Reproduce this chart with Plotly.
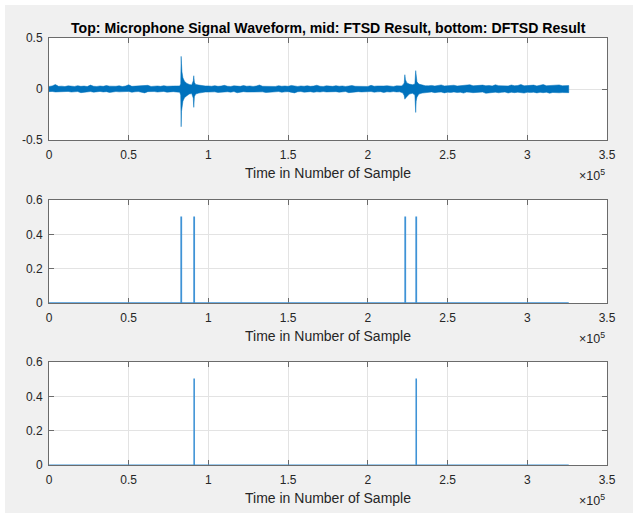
import plotly.graph_objects as go

# ---------------- data (x in units of 1e5 samples) ----------------
# Top: microphone waveform, drawn as its min/max envelope
seg_a_x = [0.00, 0.02, 0.04, 0.06, 0.08, 0.10, 0.12, 0.14, 0.16, 0.18,
           0.20, 0.22, 0.24, 0.26, 0.28, 0.30, 0.32, 0.34, 0.36, 0.38,
           0.40, 0.42, 0.44, 0.46, 0.48, 0.50, 0.52, 0.54, 0.56, 0.58,
           0.60, 0.62, 0.64, 0.66, 0.68, 0.70, 0.72, 0.74, 0.76, 0.78,
           0.80]
seg_a_hi = [0.025, 0.030, 0.044, 0.026, 0.028, 0.024, 0.031, 0.027, 0.025, 0.033,
            0.026, 0.029, 0.024, 0.038, 0.027, 0.025, 0.030, 0.026, 0.034, 0.028,
            0.025, 0.027, 0.032, 0.024, 0.029, 0.041, 0.026, 0.028, 0.025, 0.031,
            0.027, 0.036, 0.025, 0.028, 0.030, 0.026, 0.033, 0.027, 0.025, 0.029,
            0.030]
seg_a_lo = [-0.026, -0.024, -0.029, -0.033, -0.025, -0.027, -0.024, -0.030, -0.028, -0.025,
            -0.036, -0.026, -0.028, -0.025, -0.031, -0.027, -0.024, -0.029, -0.026, -0.034,
            -0.027, -0.025, -0.028, -0.030, -0.026, -0.024, -0.032, -0.027, -0.025, -0.029,
            -0.038, -0.026, -0.028, -0.025, -0.030, -0.027, -0.024, -0.031, -0.028, -0.026,
            -0.030]

spike1_x = [0.81, 0.82, 0.826, 0.829, 0.831, 0.834, 0.84, 0.85, 0.865, 0.88,
            0.895, 0.905, 0.908, 0.912, 0.92, 0.94, 0.96, 0.98]
spike1_hi = [0.028, 0.030, 0.050, 0.320, 0.250, 0.170, 0.110, 0.075, 0.055, 0.045,
             0.040, 0.080, 0.130, 0.065, 0.045, 0.038, 0.032, 0.030]
spike1_lo = [-0.028, -0.032, -0.060, -0.370, -0.220, -0.180, -0.120, -0.085, -0.065, -0.050,
             -0.045, -0.090, -0.180, -0.075, -0.050, -0.040, -0.034, -0.030]

seg_b_x = [1.00, 1.02, 1.04, 1.06, 1.08, 1.10, 1.12, 1.14, 1.16, 1.18,
           1.20, 1.22, 1.24, 1.26, 1.28, 1.30, 1.32, 1.34, 1.36, 1.38,
           1.40, 1.42, 1.44, 1.46, 1.48, 1.50, 1.52, 1.54, 1.56, 1.58,
           1.60, 1.62, 1.64, 1.66, 1.68, 1.70, 1.72, 1.74, 1.76, 1.78,
           1.80, 1.82, 1.84, 1.86, 1.88, 1.90, 1.92, 1.94, 1.96, 1.98,
           2.00, 2.02, 2.04, 2.06, 2.08, 2.10, 2.12, 2.14, 2.16, 2.18,
           2.20]
seg_b_hi = [0.030, 0.027, 0.033, 0.026, 0.029, 0.036, 0.027, 0.025, 0.031, 0.028,
            0.026, 0.034, 0.027, 0.030, 0.025, 0.029, 0.039, 0.027, 0.026, 0.031,
            0.028, 0.025, 0.033, 0.027, 0.030, 0.026, 0.035, 0.028, 0.025, 0.030,
            0.027, 0.032, 0.026, 0.029, 0.037, 0.027, 0.025, 0.031, 0.028, 0.026,
            0.033, 0.027, 0.030, 0.025, 0.029, 0.034, 0.027, 0.026, 0.031, 0.028,
            0.025, 0.036, 0.027, 0.030, 0.026, 0.029, 0.032, 0.027, 0.025, 0.031,
            0.028]
seg_b_lo = [-0.030, -0.026, -0.028, -0.034, -0.025, -0.029, -0.027, -0.031, -0.025, -0.037,
            -0.028, -0.026, -0.030, -0.027, -0.033, -0.025, -0.029, -0.028, -0.035, -0.026,
            -0.030, -0.027, -0.025, -0.032, -0.028, -0.026, -0.029, -0.038, -0.027, -0.025,
            -0.031, -0.028, -0.026, -0.033, -0.027, -0.030, -0.025, -0.029, -0.034, -0.027,
            -0.026, -0.031, -0.028, -0.025, -0.036, -0.027, -0.030, -0.026, -0.029, -0.032,
            -0.027, -0.025, -0.031, -0.028, -0.026, -0.035, -0.027, -0.030, -0.025, -0.029,
            -0.028]

spike2_x = [2.21, 2.22, 2.228, 2.232, 2.236, 2.245, 2.26, 2.28, 2.295, 2.300,
            2.303, 2.308, 2.32, 2.34, 2.36]
spike2_hi = [0.030, 0.040, 0.060, 0.140, 0.090, 0.060, 0.048, 0.042, 0.050, 0.180,
             0.120, 0.070, 0.048, 0.038, 0.032]
spike2_lo = [-0.030, -0.040, -0.065, -0.100, -0.090, -0.070, -0.050, -0.042, -0.060, -0.230,
             -0.120, -0.080, -0.050, -0.040, -0.033]

seg_d_x = [2.38, 2.40, 2.42, 2.44, 2.46, 2.48, 2.50, 2.52, 2.54, 2.56,
           2.58, 2.60, 2.62, 2.64, 2.66, 2.68, 2.70, 2.72, 2.74, 2.76,
           2.78, 2.80, 2.82, 2.84, 2.86, 2.88, 2.90, 2.92, 2.94, 2.96,
           2.98, 3.00, 3.02, 3.04, 3.06, 3.08, 3.10, 3.12, 3.14, 3.16,
           3.18, 3.20, 3.22, 3.24, 3.26]
seg_d_hi = [0.031, 0.035, 0.029, 0.033, 0.040, 0.030, 0.034, 0.031, 0.037, 0.029,
            0.033, 0.030, 0.036, 0.042, 0.031, 0.034, 0.030, 0.038, 0.032, 0.035,
            0.030, 0.041, 0.033, 0.031, 0.036, 0.030, 0.039, 0.032, 0.034, 0.044,
            0.031, 0.035, 0.033, 0.038, 0.030, 0.036, 0.043, 0.032, 0.034, 0.037,
            0.033, 0.040, 0.031, 0.036, 0.034]
seg_d_lo = [-0.032, -0.029, -0.036, -0.031, -0.030, -0.038, -0.031, -0.034, -0.029, -0.035,
            -0.031, -0.040, -0.030, -0.033, -0.036, -0.031, -0.034, -0.030, -0.042, -0.032,
            -0.035, -0.031, -0.037, -0.033, -0.030, -0.039, -0.032, -0.036, -0.031, -0.034,
            -0.040, -0.032, -0.035, -0.031, -0.038, -0.033, -0.036, -0.032, -0.041, -0.034,
            -0.033, -0.037, -0.035, -0.039, -0.036]

signal_end = 326000

# Mid: FTSD result pulses; bottom: DFTSD result pulses (sample index)
ftsd_pulses = [82800, 90900, 223300, 230200]
dftsd_pulses = [90900, 230200]
pulse_height = 0.5
pulse_width = 300

# ticks
x_tickvals = [0, 50000, 100000, 150000, 200000, 250000, 300000, 350000]
x_ticktext = ["0", "0.5", "1", "1.5", "2", "2.5", "3", "3.5"]
y1_ticks = [-0.5, 0, 0.5]
y1_text = ["-0.5", "0", "0.5"]
y23_ticks = [0, 0.2, 0.4, 0.6]
y23_text = ["0", "0.2", "0.4", "0.6"]

title_text = "Top: Microphone Signal Waveform, mid: FTSD Result, bottom: DFTSD Result"
xlabel = "Time in Number of Sample"

# ---------------- build ----------------
BLUE = "#0072BD"
PULSE = "#3f93d6"
FONT = "Liberation Sans, Arial, Helvetica, sans-serif"
TXT = "#262626"
AX = "#6b6b6b"
GRID = "#e3e3e3"

env_x = seg_a_x + spike1_x + seg_b_x + spike2_x + seg_d_x
env_hi = seg_a_hi + spike1_hi + seg_b_hi + spike2_hi + seg_d_hi
env_lo = seg_a_lo + spike1_lo + seg_b_lo + spike2_lo + seg_d_lo


def pulse_series(pulses):
    xs, ys = [0], [0]
    for p in pulses:
        xs += [p, p, p + pulse_width, p + pulse_width]
        ys += [0, pulse_height, pulse_height, 0]
    xs.append(signal_end)
    ys.append(0)
    return xs, ys


fig = go.Figure()

ex = [v * 1e5 for v in env_x]
fig.add_trace(go.Scatter(
    x=ex + ex[::-1], y=env_hi + env_lo[::-1], fill="toself",
    fillcolor=BLUE, line=dict(color=BLUE, width=0.5), mode="lines",
    xaxis="x", yaxis="y", hoverinfo="skip", showlegend=False))

mx, my = pulse_series(ftsd_pulses)
fig.add_trace(go.Scatter(x=mx, y=my, mode="lines", line=dict(color=PULSE, width=1.3),
                         xaxis="x2", yaxis="y2", showlegend=False))
bx, by = pulse_series(dftsd_pulses)
fig.add_trace(go.Scatter(x=bx, y=by, mode="lines", line=dict(color=PULSE, width=1.1),
                         xaxis="x3", yaxis="y3", showlegend=False))

L, R, T, B = 49, 26, 38, 48
W, H = 633, 513
PH = H - T - B


def yp(px):
    return (H - B - px) / PH


def xp(px):
    return (px - L) / (W - L - R)


domains = [[yp(140), 1.0], [yp(303), yp(200)], [0.0, yp(362)]]

common_x = dict(range=[0, 350000], tickvals=x_tickvals, ticktext=x_ticktext,
                showline=True, linecolor=AX, linewidth=1, mirror="ticks",
                ticks="inside", ticklen=5, tickcolor=AX, showgrid=True,
                gridcolor=GRID, gridwidth=1, zeroline=False,
                tickfont=dict(family=FONT, size=12, color=TXT),
                ticklabelstandoff=4, layer="below traces")
common_y = dict(showline=True, linecolor=AX, linewidth=1, mirror="ticks",
                ticks="inside", ticklen=5, tickcolor=AX, showgrid=True,
                gridcolor=GRID, gridwidth=1, zeroline=False,
                tickfont=dict(family=FONT, size=12, color=TXT),
                ticklabelstandoff=3, layer="below traces")

fig.update_layout(
    width=W, height=H,
    margin=dict(l=L, r=R, t=T, b=B, pad=0),
    paper_bgcolor="#f0f0f0", plot_bgcolor="white",
    font=dict(family=FONT, color=TXT),
    xaxis=dict(common_x, anchor="y"),
    yaxis=dict(common_y, domain=domains[0], range=[-0.5, 0.5],
               tickvals=y1_ticks, ticktext=y1_text, anchor="x"),
    xaxis2=dict(common_x, anchor="y2"),
    yaxis2=dict(common_y, domain=domains[1], range=[0, 0.6],
                tickvals=y23_ticks, ticktext=y23_text, anchor="x2"),
    xaxis3=dict(common_x, anchor="y3"),
    yaxis3=dict(common_y, domain=domains[2], range=[0, 0.6],
                tickvals=y23_ticks, ticktext=y23_text, anchor="x3"),
    showlegend=False,
)

annotations = [dict(text="<b>" + title_text + "</b>", x=0.5, y=yp(28), xref="paper",
                    yref="paper", xanchor="center", yanchor="middle", showarrow=False,
                    font=dict(family=FONT, size=14.1, color="black"))]
for bottom_px in [140, 303, 465]:
    annotations.append(dict(text=xlabel, x=0.5, y=yp(bottom_px + 33), xref="paper",
                            yref="paper", xanchor="center", yanchor="middle",
                            showarrow=False, font=dict(family=FONT, size=14, color=TXT)))
    annotations.append(dict(text="×10<sup>5</sup>", x=1.0, y=yp(bottom_px + 35),
                            xref="paper", yref="paper", xanchor="right",
                            yanchor="middle", showarrow=False,
                            font=dict(family=FONT, size=12.5, color=TXT)))
fig.update_layout(annotations=annotations)

# white window border strips at top and left
fig.add_shape(type="rect", xref="paper", yref="paper", x0=xp(0), x1=xp(W), y0=yp(5),
              y1=yp(0), fillcolor="white", line=dict(width=0), layer="below")
fig.add_shape(type="rect", xref="paper", yref="paper", x0=xp(0), x1=xp(5), y0=yp(H),
              y1=yp(0), fillcolor="white", line=dict(width=0), layer="below")

fig.write_html("out.html")
